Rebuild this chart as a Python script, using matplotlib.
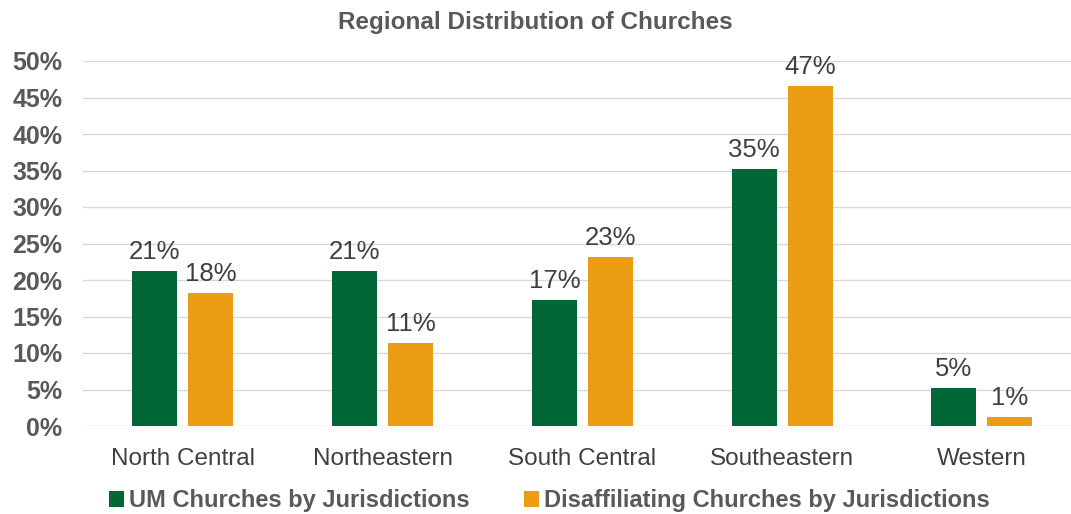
import numpy as np
import matplotlib.pyplot as plt

plt.rcParams['font.family'] = ['Liberation Sans', 'DejaVu Sans']

regions = ["North Central", "Northeastern", "South Central", "Southeastern", "Western"]
um_churches = [21.2, 21.3, 17.3, 35.2, 5.2]
disaffiliating = [18.2, 11.4, 23.1, 46.6, 1.2]
series_names = ["UM Churches by Jurisdictions", "Disaffiliating Churches by Jurisdictions"]

green = "#006837"
orange = "#EC9C13"
gray = "#595959"

fig = plt.figure(figsize=(10.71, 5.14), dpi=100)
ax = fig.add_axes([83 / 1071, 1 - 426 / 514, 988 / 1071, 365 / 514])

ind = np.arange(len(regions))
width = 0.225
b1 = ax.bar(ind - 0.14, um_churches, width, color=green, label=series_names[0], zorder=3)
b2 = ax.bar(ind + 0.14, disaffiliating, width, color=orange, label=series_names[1], zorder=3)

for bars in (b1, b2):
    for r in bars:
        h = r.get_height()
        ax.annotate("%d%%" % round(h), (r.get_x() + r.get_width() / 2, h),
                    xytext=(0, 5), textcoords="offset points", ha="center", va="bottom",
                    fontsize=18.5, color="#404040")

ax.set_xlim(-0.5, -0.5 + 988 / 199.75)
ax.set_ylim(0, 50)
ax.set_yticks(np.arange(0, 51, 5))
ax.set_yticklabels(["%d%%" % v for v in range(0, 51, 5)], fontsize=18, fontweight="bold", color=gray)
ax.set_xticks(ind)
ax.set_xticklabels(regions, fontsize=17.5, color="#404040")
ax.tick_params(axis="both", length=0)
ax.tick_params(axis="x", pad=16)
ax.tick_params(axis="y", pad=15)
ax.grid(axis="y", color="#d9d9d9", linewidth=1, zorder=0)
for s in ax.spines.values():
    s.set_visible(False)

fig.text(0.5, 1 - 22 / 514, "Regional Distribution of Churches", ha="center", va="center",
         fontsize=17.5, fontweight="bold", color=gray)

fig.legend(loc="center", bbox_to_anchor=(549.5 / 1071, 1 - 501 / 514), ncol=2, frameon=False,
           handlelength=0.64, handleheight=0.64, handletextpad=0.2, columnspacing=2.3,
           prop={"size": 17, "weight": "bold"}, labelcolor=gray)

fig.savefig("out.png", dpi=100)
